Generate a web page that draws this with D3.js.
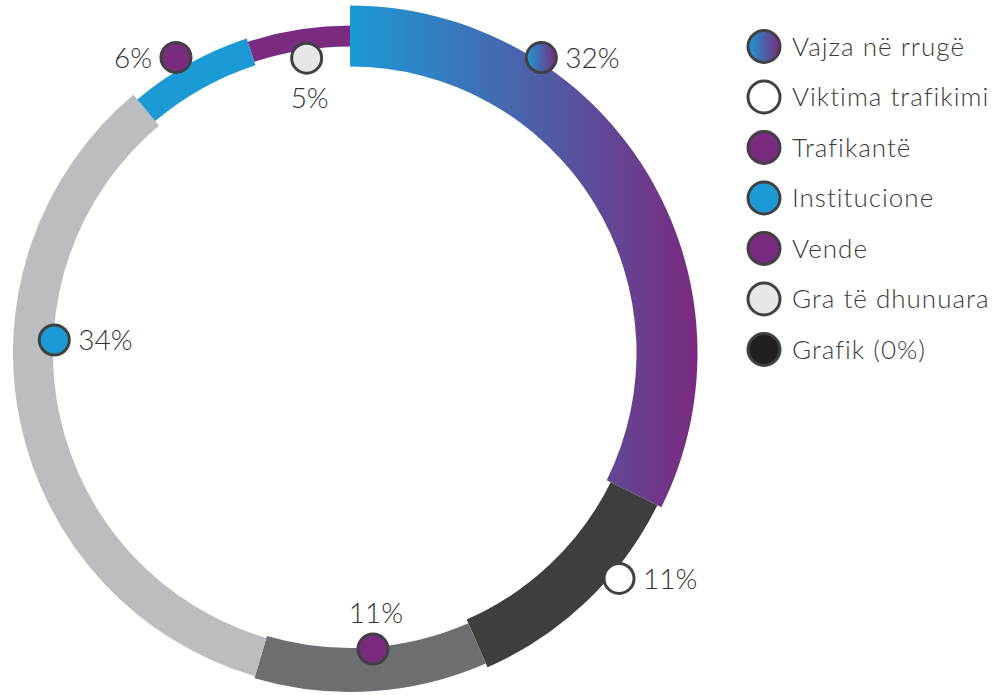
<!DOCTYPE html>
<html>
<head>
<meta charset="utf-8">
<script src="https://cdn.jsdelivr.net/npm/d3@7"></script>
<style>
  body { margin: 0; background: #fff; }
  svg text { font-family: Lato, "Open Sans", sans-serif; font-weight: 300; }
</style>
</head>
<body>
<svg id="chart" width="997" height="695"></svg>
<script>
// data
const categories = ["Vajza në rrugë", "Viktima trafikimi", "Trafikantë", "Institucione", "Vende", "Gra të dhunuara", "Grafik (0%)"];
const segmentValues = [32, 11, 11, 34, 6, 5];
const segmentLabels = ["32%", "11%", "11%", "34%", "6%", "5%"];
const segmentCategory = [0, 1, 2, 3, 4, 5];

// styles / layout
const categoryFill = ["url(#grad)", "#ffffff", "#7a2a7f", "#1b9ad6", "#7a2a7f", "#e6e7e8", "#231f20"];
const segmentFill = ["url(#grad)", "#3e3e3e", "#6d6e71", "#bcbdc0", "#1b9ad6", "#7a2a7f"];
const segmentThick = [61, 52, 44, 40, 28, 21];
const markerAt = [0.283, 0.34, 0.48, 0.616, 0.436, 0.54];  // fraction along segment
const markerR = [352, 351, 297, 296, 343, 298];
const labelSide = ["right", "right", "top", "right", "left", "bottom"];

const cx = 350, cy = 353, R = 317;
const svg = d3.select("#chart");

const defs = svg.append("defs");
const grad = defs.append("linearGradient").attr("id", "grad")
  .attr("x1", 0).attr("y1", 0).attr("x2", 1).attr("y2", 0);
grad.append("stop").attr("offset", "0%").attr("stop-color", "#1b9ad6");
grad.append("stop").attr("offset", "100%").attr("stop-color", "#7a2a7f");

const pie = d3.pie().sort(null).value(d => d);
const arcs = pie(segmentValues);
const arc = d3.arc()
  .innerRadius(d => R - segmentThick[d.index] / 2)
  .outerRadius(d => R + segmentThick[d.index] / 2);

const g = svg.append("g").attr("transform", `translate(${cx},${cy})`);

g.selectAll("path.seg")
  .data(arcs).enter().append("path")
  .attr("class", "seg")
  .attr("d", arc)
  .attr("fill", d => segmentFill[d.index]);

// markers
const marks = arcs.map(d => {
  const a = d.startAngle + (d.endAngle - d.startAngle) * markerAt[d.index];
  const r = markerR[d.index];
  return { i: d.index, x: r * Math.sin(a), y: -r * Math.cos(a) };
});

g.selectAll("circle.mark")
  .data(marks).enter().append("circle")
  .attr("class", "mark")
  .attr("cx", d => d.x).attr("cy", d => d.y)
  .attr("r", 15)
  .attr("fill", d => categoryFill[segmentCategory[d.i]])
  .attr("stroke", "#414042").attr("stroke-width", 3);

g.selectAll("text.pct")
  .data(marks).enter().append("text")
  .attr("class", "pct")
  .attr("x", d => d.x + (labelSide[d.i] === "right" ? 24 : labelSide[d.i] === "left" ? -24 : 3))
  .attr("y", d => d.y + (labelSide[d.i] === "top" ? -36 : labelSide[d.i] === "bottom" ? 40 : 0))
  .attr("dy", "0.36em")
  .attr("text-anchor", d => labelSide[d.i] === "right" ? "start" : labelSide[d.i] === "left" ? "end" : "middle")
  .attr("font-size", 28)
  .attr("fill", "#333")
  .text(d => segmentLabels[d.i]);

// legend
const ly = d3.scalePoint().domain(categories).range([46.5, 349.5]);
const leg = svg.append("g").selectAll("g")
  .data(categories).enter().append("g")
  .attr("transform", d => `translate(764,${ly(d)})`);

leg.append("circle")
  .attr("r", 16)
  .attr("fill", (d, i) => categoryFill[i])
  .attr("stroke", "#414042").attr("stroke-width", 3);

leg.append("text")
  .attr("x", 28).attr("dy", "0.36em")
  .attr("font-size", 26)
  .attr("letter-spacing", 1)
  .attr("fill", "#3a3a3a")
  .text(d => d);
</script>
</body>
</html>
